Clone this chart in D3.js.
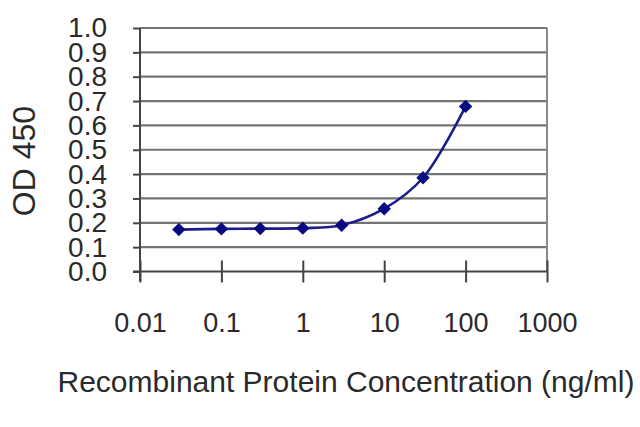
<!DOCTYPE html>
<html>
<head>
<meta charset="utf-8">
<script src="https://cdn.jsdelivr.net/npm/d3@7"></script>
<style>
  body { margin: 0; background: #fff; }
  text { font-family: "Liberation Sans", Arial, sans-serif; fill: #2a2a2a; }
</style>
</head>
<body>
<script>
var width = 640,
    height = 427;

// data
var concentration = [0.03, 0.1, 0.3, 1, 3, 10, 30, 100];
var od450 = [0.172, 0.175, 0.176, 0.178, 0.19, 0.258, 0.385, 0.678];
var xTicks = [0.01, 0.1, 1, 10, 100, 1000];
var xTickLabels = ["0.01", "0.1", "1", "10", "100", "1000"];
var yTicks = [0, 0.1, 0.2, 0.3, 0.4, 0.5, 0.6, 0.7, 0.8, 0.9, 1.0];

var plot = {left: 140, right: 547, top: 28, bottom: 271.5};

var x = d3.scaleLog()
    .domain([0.01, 1000])
    .range([plot.left, plot.right]);

var y = d3.scaleLinear()
    .domain([0, 1])
    .range([plot.bottom, plot.top]);

var svg = d3.select("body").append("svg")
    .attr("width", width)
    .attr("height", height)
    .style("background", "#fff");

// horizontal gridlines
svg.append("g").selectAll("line")
    .data(yTicks.slice(1))
    .enter().append("line")
    .attr("x1", plot.left)
    .attr("x2", plot.right)
    .attr("y1", function(d) { return y(d); })
    .attr("y2", function(d) { return y(d); })
    .attr("stroke", "#747474")
    .attr("stroke-width", 2.2);

// right border
svg.append("line")
    .attr("x1", plot.right).attr("x2", plot.right)
    .attr("y1", plot.top).attr("y2", plot.bottom)
    .attr("stroke", "#8a8a8a")
    .attr("stroke-width", 2);

// y axis
var yAxis = svg.append("g")
    .attr("transform", "translate(" + plot.left + ",0)")
    .call(d3.axisLeft(y).tickValues(yTicks).tickSize(7).tickPadding(26)
        .tickFormat(d3.format(".1f")));
yAxis.select(".domain").remove();
yAxis.selectAll("line").attr("stroke", "#444").attr("stroke-width", 2);
yAxis.selectAll("text")
    .style("font-size", "28px")
    .style("font-family", null)
    .attr("fill", "#2a2a2a");
yAxis.append("line")
    .attr("y1", plot.top).attr("y2", plot.bottom + 10)
    .attr("stroke", "#444").attr("stroke-width", 2);

// x axis, ticks cross the axis line
var xAxis = svg.append("g")
    .attr("transform", "translate(0," + plot.bottom + ")")
    .call(d3.axisBottom(x).tickValues(xTicks).tickSize(11).tickPadding(30)
        .tickFormat(function(d, i) { return xTickLabels[i]; }));
xAxis.select(".domain").remove();
xAxis.selectAll("line").attr("y1", -11).attr("stroke", "#444").attr("stroke-width", 2);
xAxis.selectAll("text")
    .style("font-size", "27px")
    .style("font-family", null)
    .attr("fill", "#2a2a2a");
xAxis.append("line")
    .attr("x1", plot.left - 7).attr("x2", plot.right)
    .attr("stroke", "#444").attr("stroke-width", 2);

// curve
var line = d3.line()
    .x(function(d) { return x(d[0]); })
    .y(function(d) { return y(d[1]); })
    .curve(d3.curveCatmullRom.alpha(0.5));

var pts = concentration.map(function(c, i) { return [c, od450[i]]; });

svg.append("path")
    .datum(pts)
    .attr("d", line)
    .attr("fill", "none")
    .attr("stroke", "#1c1c8a")
    .attr("stroke-width", 2.6);

svg.append("g").selectAll("path")
    .data(pts)
    .enter().append("path")
    .attr("transform", function(d) {
        return "translate(" + x(d[0]) + "," + y(d[1]) + ") rotate(45)";
    })
    .attr("d", d3.symbol().type(d3.symbolSquare).size(90))
    .attr("fill", "#0a0a80");

// axis titles
svg.append("text")
    .attr("transform", "translate(35,161) rotate(-90)")
    .attr("text-anchor", "middle")
    .style("font-size", "32px")
    .text("OD 450");

svg.append("text")
    .attr("x", 346)
    .attr("y", 392)
    .attr("text-anchor", "middle")
    .style("font-size", "30px")
    .text("Recombinant Protein Concentration (ng/ml)");
</script>
</body>
</html>
